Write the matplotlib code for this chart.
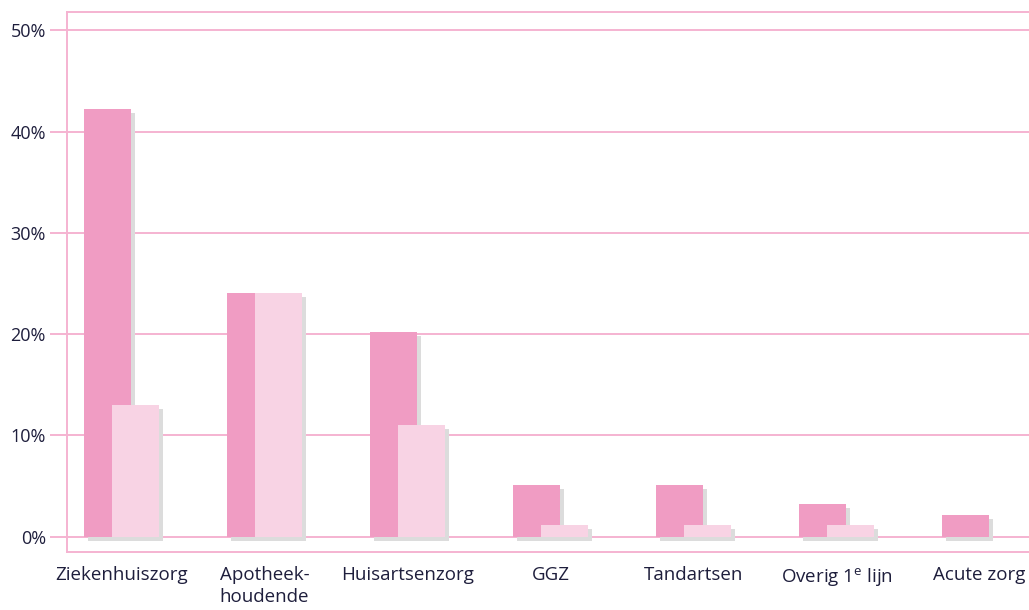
import matplotlib
matplotlib.use("Agg")
import matplotlib.pyplot as plt
import numpy as np

categories = ["Ziekenhuiszorg", "Apotheek-\nhoudende", "Huisartsenzorg", "GGZ",
              "Tandartsen", "Overig 1$^{\\mathrm{e}}$ lijn", "Acute zorg"]
series_a = [42.2, 24.1, 20.2, 5.1, 5.1, 3.2, 2.2]
series_b = [13, 24.1, 11, 1.2, 1.2, 1.2, 0]
yticks = [0, 10, 20, 30, 40, 50]
ytick_labels = ["0%", "10%", "20%", "30%", "40%", "50%"]

DARK = "#F09CC3"
LIGHT = "#F8D3E4"
LINE = "#F5B3D1"
SHADOW = "#DCDCDC"
TEXT = "#1E1E3C"

plt.rcParams['font.family'] = ['Open Sans', 'DejaVu Sans']
plt.rcParams['mathtext.fontset'] = 'custom'
plt.rcParams['mathtext.rm'] = 'Open Sans'

fig = plt.figure(figsize=(10.29, 6.10), dpi=100)
W, H = 1029, 610
ax = fig.add_axes([67 / W, (H - 552) / H, (W - 67) / W, (552 - 12) / H])

x = np.arange(len(categories))
bw = 0.329
off = 0.101
sdx = 0.028
sdy = 0.4

ax.set_xlim(-0.381, 6.346)
ax.set_ylim(-1.5, 51.8)

for v in yticks:
    ax.axhline(v, color=LINE, lw=1.4, zorder=0)

for i in range(len(categories)):
    a, b = series_a[i], series_b[i]
    if a > 0:
        ax.bar(x[i] - off + sdx, a, width=bw, bottom=-sdy, color=SHADOW, zorder=1)
        ax.bar(x[i] - off, a, width=bw, color=DARK, zorder=2)
    if b > 0:
        ax.bar(x[i] + off + sdx, b, width=bw, bottom=-sdy, color=SHADOW, zorder=3)
        ax.bar(x[i] + off, b, width=bw, color=LIGHT, zorder=4)

ax.spines["right"].set_visible(False)
for s in ["left", "top", "bottom"]:
    ax.spines[s].set_color(LINE)
    ax.spines[s].set_linewidth(1.4)

ax.set_yticks(yticks)
ax.set_yticklabels(ytick_labels, fontsize=13, color=TEXT)
ax.tick_params(axis='y', length=12.2, width=1.4, color=LINE, pad=3)
ax.set_xticks(x)
ax.set_xticklabels(categories, fontsize=13.5, color=TEXT, linespacing=1.3, va='top')
ax.tick_params(axis='x', length=0, pad=10)

fig.savefig("out.png", dpi=100, facecolor="white")
